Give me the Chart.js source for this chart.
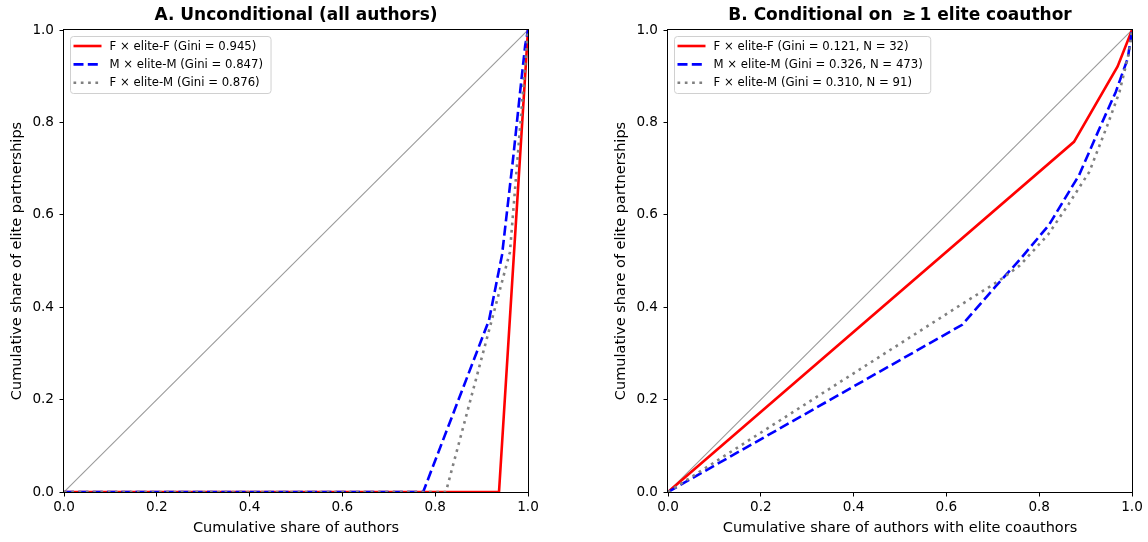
<!DOCTYPE html>
<html><head><meta charset="utf-8">
<script src="https://cdn.jsdelivr.net/npm/chart.js@4"></script>
<style>
html,body{margin:0;padding:0;background:#fff;}
#wrap{position:relative;width:1148px;height:542px;overflow:hidden;}
canvas{position:absolute;top:0;}
</style></head><body>
<div id="wrap">
<canvas id="cA" width="544" height="542" style="left:0px"></canvas>
<canvas id="cB" width="544" height="542" style="left:604px"></canvas>
</div>
<script>
// ---- data ----
const tickValues = [0, 0.2, 0.4, 0.6, 0.8, 1.0];
const diagX = [0, 1];
const diagY = [0, 1];

// Panel A: unconditional
const aFFx = [0, 0.9375, 1];
const aFFy = [0, 0, 1];
const aMMx = [0, 0.774, 0.916, 0.944, 0.968, 0.983, 0.994, 1];
const aMMy = [0, 0, 0.372, 0.513, 0.723, 0.866, 0.967, 1];
const aFMx = [0, 0.823, 0.961, 1];
const aFMy = [0, 0, 0.519, 1];
const aLabels = ["F \u00d7 elite-F (Gini = 0.945)", "M \u00d7 elite-M (Gini = 0.847)", "F \u00d7 elite-M (Gini = 0.876)"];

// Panel B: conditional on >=1 elite coauthor
const bFFx = [0, 0.875, 0.969, 1];
const bFFy = [0, 0.758, 0.921, 1];
const bMMx = [0, 0.634, 0.706, 0.76, 0.821, 0.886, 0.933, 0.965, 0.991, 1];
const bMMy = [0, 0.362, 0.445, 0.505, 0.578, 0.686, 0.794, 0.866, 0.939, 1];
const bFMx = [0, 0.634, 0.71, 0.758, 0.819, 0.864, 0.908, 0.947, 0.973, 0.994, 1];
const bFMy = [0, 0.407, 0.455, 0.49, 0.557, 0.624, 0.693, 0.794, 0.866, 0.953, 1];
const bLabels = ["F \u00d7 elite-F (Gini = 0.121, N = 32)", "M \u00d7 elite-M (Gini = 0.326, N = 473)", "F \u00d7 elite-M (Gini = 0.310, N = 91)"];

const FONT = '"DejaVu Sans", "Liberation Sans", sans-serif';
Chart.defaults.font.family = FONT;
Chart.defaults.color = '#000';

function pts(xs, ys) { return xs.map((x, i) => ({x: x, y: ys[i]})); }

const framePlugin = {
  id: 'frame',
  afterDatasetsDraw(chart) {
    const a = chart.chartArea, ctx = chart.ctx;
    ctx.save();
    ctx.strokeStyle = '#000';
    ctx.lineWidth = 1;
    ctx.setLineDash([]);
    ctx.strokeRect(Math.round(a.left) - 0.5, Math.round(a.top) - 0.5, Math.round(a.right - a.left) + 1, Math.round(a.bottom - a.top) + 1);
    ctx.restore();
  }
};

const legendPlugin = {
  id: 'boxLegend',
  afterDraw(chart) {
    const ctx = chart.ctx, a = chart.chartArea;
    const items = chart.data.datasets.filter(d => d.inLegend);
    ctx.save();
    ctx.font = '11.7px ' + FONT;
    let maxW = 0;
    items.forEach(d => { maxW = Math.max(maxW, ctx.measureText(d.label).width); });
    const x0 = a.left + 6.5, y0 = a.top + 6.5;
    const w = 39 + maxW + 8, h = 57;
    const r = 3;
    ctx.beginPath();
    ctx.moveTo(x0 + r, y0);
    ctx.lineTo(x0 + w - r, y0); ctx.arcTo(x0 + w, y0, x0 + w, y0 + r, r);
    ctx.lineTo(x0 + w, y0 + h - r); ctx.arcTo(x0 + w, y0 + h, x0 + w - r, y0 + h, r);
    ctx.lineTo(x0 + r, y0 + h); ctx.arcTo(x0, y0 + h, x0, y0 + h - r, r);
    ctx.lineTo(x0, y0 + r); ctx.arcTo(x0, y0, x0 + r, y0, r);
    ctx.closePath();
    ctx.fillStyle = 'rgba(255,255,255,0.85)';
    ctx.fill();
    ctx.strokeStyle = '#d0d0d0';
    ctx.lineWidth = 1;
    ctx.stroke();
    items.forEach((d, i) => {
      const cy = y0 + 9.5 + i * 18.4;
      ctx.beginPath();
      ctx.setLineDash(d.borderDash || []);
      ctx.strokeStyle = d.borderColor;
      ctx.lineWidth = d.borderWidth;
      ctx.moveTo(x0 + 3, cy);
      ctx.lineTo(x0 + 31, cy);
      ctx.stroke();
      ctx.setLineDash([]);
      ctx.fillStyle = '#000';
      ctx.textBaseline = 'middle';
      ctx.textAlign = 'left';
      ctx.fillText(d.label, x0 + 39, cy + 0.5);
    });
    ctx.restore();
  }
};

function makeChart(id, title, xTitle, labels, ffx, ffy, mmx, mmy, fmx, fmy) {
  const ds = [
    {label: 'diag', data: pts(diagX, diagY), borderColor: '#9a9a9a', borderWidth: 1.1, order: 4, inLegend: false},
    {label: labels[0], data: pts(ffx, ffy), borderColor: '#ff0000', borderWidth: 2.6, order: 3, inLegend: true},
    {label: labels[1], data: pts(mmx, mmy), borderColor: '#0000ff', borderWidth: 2.6, borderDash: [10, 4.3], order: 2, inLegend: true},
    {label: labels[2], data: pts(fmx, fmy), borderColor: '#808080', borderWidth: 2.6, borderDash: [2.7, 4.6], order: 1, inLegend: true}
  ];
  ds.forEach(d => { d.showLine = true; d.pointRadius = 0; d.pointHoverRadius = 0; d.fill = false; d.tension = 0; d.backgroundColor = d.borderColor; });
  const axisCommon = {
    type: 'linear', min: 0, max: 1,
    afterBuildTicks: s => { s.ticks = tickValues.map(v => ({value: v})); },
    grid: {display: true, drawOnChartArea: false, drawTicks: true, tickLength: 4.5, tickColor: '#000', tickWidth: 1},
    border: {display: false}
  };
  const tickCommon = {color: '#000', font: {size: 13.6}, callback: v => Number(v).toFixed(1), maxRotation: 0, autoSkip: false};
  return new Chart(document.getElementById(id), {
    type: 'scatter',
    data: {datasets: ds},
    options: {
      responsive: false, animation: false, events: [],
      layout: {padding: {left: 0, right: 16, top: 0, bottom: 0}},
      plugins: {
        legend: {display: false}, tooltip: {enabled: false},
        title: {display: true, text: title, fullSize: false, color: '#000', font: {size: 17, weight: 'bold'}, padding: {top: 5, bottom: 4.6}}
      },
      scales: {
        x: Object.assign({}, axisCommon, {
          position: 'bottom',
          ticks: Object.assign({}, tickCommon, {padding: 3}),
          title: {display: true, text: xTitle, color: '#000', font: {size: 14.5}, padding: {top: 0, bottom: 5}},
          afterFit: s => { s.height = 50; }
        }),
        y: Object.assign({}, axisCommon, {
          position: 'left',
          ticks: Object.assign({}, tickCommon, {padding: 5.5}),
          title: {display: true, text: 'Cumulative share of elite partnerships', color: '#000', font: {size: 14.5}, padding: {top: 9, bottom: 0}},
          afterFit: s => { s.width = 64; }
        })
      }
    },
    plugins: [framePlugin, legendPlugin]
  });
}

makeChart('cA', 'A. Unconditional (all authors)', 'Cumulative share of authors', aLabels, aFFx, aFFy, aMMx, aMMy, aFMx, aFMy);
makeChart('cB', 'B. Conditional on \u2009\u2265\u20091 elite coauthor', 'Cumulative share of authors with elite coauthors', bLabels, bFFx, bFFy, bMMx, bMMy, bFMx, bFMy);
</script>
</body></html>
